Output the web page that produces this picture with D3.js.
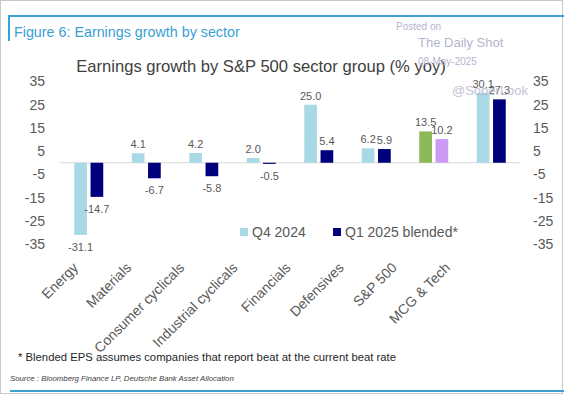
<!DOCTYPE html>
<html>
<head>
<meta charset="utf-8">
<script src="https://cdn.jsdelivr.net/npm/d3@7"></script>
<style>
    body { margin: 0; background: #ffffff; }
    text { font-family: 'Liberation Sans', Arial, sans-serif; }
</style>
</head>
<body>
<div id="chart"></div>
<script>
// Data
const categories = ['Energy', 'Materials', 'Consumer cyclicals', 'Industrial cyclicals',
    'Financials', 'Defensives', 'S&P 500', 'MCG & Tech'];
const q4_2024 = [-31.1, 4.1, 4.2, 2.0, 25.0, 6.2, 13.5, 30.1];
const q1_2025 = [-14.7, -6.7, -5.8, -0.5, 5.4, 5.9, 10.2, 27.3];
const seriesNames = ['Q4 2024', 'Q1 2025 blended*'];
const yTicks = [35, 25, 15, 5, -5, -15, -25, -35];

const width = 564;
const height = 394;

// colours
const lightBlue = '#a9d9e5';
const navy = '#00007c';
const spGreen = '#8db857';
const spPurple = '#cc99f5';
const labelGrey = '#595959';
const frameBlue = '#3a9fd3';

const svg = d3.select('#chart')
    .append('svg')
    .attr('width', width)
    .attr('height', height);

svg.append('rect')
    .attr('x', 0.5).attr('y', 0.5)
    .attr('width', width - 2).attr('height', height - 1)
    .attr('fill', '#ffffff')
    .attr('stroke', '#c8c8c8');

// frame lines
svg.append('line')
    .attr('x1', 8).attr('x2', width).attr('y1', 16).attr('y2', 16)
    .attr('stroke', frameBlue).attr('stroke-width', 2);
svg.append('line')
    .attr('x1', 9).attr('x2', 9).attr('y1', 15).attr('y2', 41)
    .attr('stroke', frameBlue).attr('stroke-width', 2);
svg.append('line')
    .attr('x1', 10).attr('x2', width).attr('y1', 391).attr('y2', 391)
    .attr('stroke', frameBlue).attr('stroke-width', 2);

// titles
svg.append('text')
    .attr('x', 14).attr('y', 37)
    .attr('font-size', '14.3px')
    .style('fill', frameBlue)
    .text('Figure 6: Earnings growth by sector');

svg.append('text')
    .attr('x', 261).attr('y', 72)
    .attr('text-anchor', 'middle')
    .attr('font-size', '16.6px')
    .style('fill', '#404040')
    .text('Earnings growth by S&P 500 sector group (% yoy)');

// scales
const x = d3.scaleBand()
    .domain(categories)
    .range([60, 520])
    .padding(0);

const x1 = d3.scaleBand()
    .domain([0, 1])
    .range([x.bandwidth() / 2 - 14.5, x.bandwidth() / 2 + 14.5])
    .paddingInner(0.22);

const y = d3.scaleLinear()
    .domain([-35, 35])
    .range([244, 81.5]);

// y axes, left and right (plain hyphen for negatives)
const yAxisLeft = d3.axisLeft(y).tickValues(yTicks).tickSize(0).tickPadding(0)
    .tickFormat(d => String(d));
const yAxisRight = d3.axisRight(y).tickValues(yTicks).tickSize(0).tickPadding(0)
    .tickFormat(d => String(d));

const leftAxis = svg.append('g')
    .attr('transform', 'translate(45, 0)')
    .call(yAxisLeft);
const rightAxis = svg.append('g')
    .attr('transform', 'translate(533, 0)')
    .call(yAxisRight);

[leftAxis, rightAxis].forEach(g => {
    g.select('.domain').remove();
    g.selectAll('text')
        .attr('font-size', '14px')
        .style('fill', labelGrey);
});

// zero line
svg.append('line')
    .attr('x1', 60).attr('x2', 520)
    .attr('y1', y(0)).attr('y2', y(0))
    .attr('stroke', '#d9d9d9')
    .attr('stroke-width', 1);

// bars
const rows = categories.map((c, i) => ({ cat: c, values: [q4_2024[i], q1_2025[i]] }));

function barColor(cat, s) {
    if (cat === 'S&P 500') {
        return s === 0 ? spGreen : spPurple;
    }
    return s === 0 ? lightBlue : navy;
}

const groups = svg.selectAll('.group')
    .data(rows)
    .enter()
    .append('g')
    .attr('class', 'group')
    .attr('transform', d => `translate(${x(d.cat)}, 0)`);

groups.selectAll('rect')
    .data(d => d.values.map((v, s) => ({ cat: d.cat, v: v, s: s })))
    .enter()
    .append('rect')
    .attr('x', d => x1(d.s))
    .attr('width', x1.bandwidth())
    .attr('y', d => y(Math.max(0, d.v)))
    .attr('height', d => Math.abs(y(d.v) - y(0)))
    .attr('fill', d => barColor(d.cat, d.s));

// value labels
groups.selectAll('.val')
    .data(d => d.values.map((v, s) => ({ cat: d.cat, v: v, s: s })))
    .enter()
    .append('text')
    .attr('class', 'val')
    .attr('x', d => x1(d.s) + x1.bandwidth() / 2)
    .attr('y', d => d.v >= 0 ? y(d.v) - 9 : y(d.v) + 12)
    .attr('dy', '0.35em')
    .attr('text-anchor', 'middle')
    .attr('font-size', '11px')
    .style('fill', labelGrey)
    .text(d => d.v.toFixed(1));

// category labels, rotated
const xLab = d3.scalePoint()
    .domain(categories)
    .range([75, 447]);

const xAxis = d3.axisBottom(xLab).tickSize(0).tickPadding(0);
const xAxisGroup = svg.append('g')
    .attr('transform', 'translate(0, 265)')
    .call(xAxis);
xAxisGroup.select('.domain').remove();
xAxisGroup.selectAll('text')
    .attr('font-size', '14px')
    .attr('text-anchor', 'end')
    .attr('dy', '0.35em')
    .attr('y', 0)
    .attr('transform', 'rotate(-45)')
    .style('fill', labelGrey);

// legend
const legend = svg.selectAll('.legend')
    .data(seriesNames)
    .enter()
    .append('g')
    .attr('class', 'legend')
    .attr('transform', (d, i) => `translate(${i === 0 ? 240 : 333}, 232)`);

legend.append('rect')
    .attr('x', 0).attr('y', -4)
    .attr('width', 8).attr('height', 8)
    .attr('fill', (d, i) => i === 0 ? lightBlue : navy);

legend.append('text')
    .attr('x', 12)
    .attr('dy', '0.35em')
    .attr('font-size', '14px')
    .style('fill', labelGrey)
    .text(d => d);

// footnotes
svg.append('text')
    .attr('x', 18).attr('y', 361)
    .attr('font-size', '11.3px')
    .style('fill', '#262626')
    .text('* Blended EPS assumes companies that report beat at the current beat rate');

svg.append('text')
    .attr('x', 10).attr('y', 381)
    .attr('font-size', '7.8px')
    .attr('font-style', 'italic')
    .style('fill', '#404040')
    .text('Source : Bloomberg Finance LP, Deutsche Bank Asset Allocation');

// watermark
const wm = '#b4b4cc';
svg.append('text').attr('x', 396).attr('y', 30)
    .attr('font-size', '10px').style('fill', wm).text('Posted on');
svg.append('text').attr('x', 418).attr('y', 47)
    .attr('font-size', '13px').style('fill', wm).text('The Daily Shot');
svg.append('text').attr('x', 418).attr('y', 65)
    .attr('font-size', '10px').style('fill', wm).text('08-May-2025');
svg.append('text').attr('x', 452).attr('y', 95)
    .attr('font-size', '13px').style('fill', wm).attr('opacity', 0.8).text('@SoberLook');
</script>
</body>
</html>
